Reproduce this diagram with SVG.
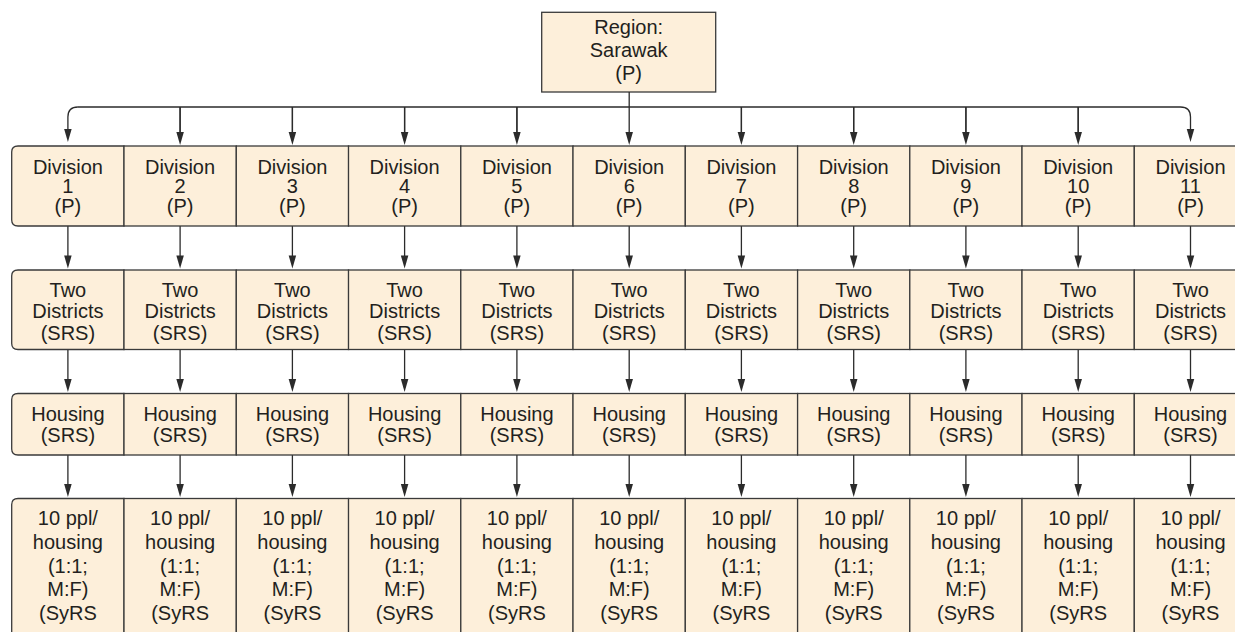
<svg xmlns="http://www.w3.org/2000/svg" width="1235" height="632" viewBox="0 0 1235 632">
<style>
.box{fill:#FDEFDA;stroke:#3a3a3a;stroke-width:1.3}
.t{font-family:"Liberation Sans",Arial,sans-serif;font-size:20px;fill:#231f20;text-anchor:middle}
.c{fill:none;stroke:#2b2b2b;stroke-width:1.3}
</style>
<defs>
<marker id="ah" markerUnits="userSpaceOnUse" markerWidth="14" markerHeight="8" refX="9" refY="3.75" orient="auto" overflow="visible">
<path d="M0,0 L13,3.75 L0,7.5 Z" fill="#2b2b2b"/>
</marker>
</defs>
<rect width="1235" height="632" fill="#fff"/>
<g id="region">
<rect class="box" x="541.7" y="12.3" width="174" height="79.7"/>
<text class="t" x="628.7" y="34">Region:</text>
<text class="t" x="628.7" y="57">Sarawak</text>
<text class="t" x="628.7" y="80">(P)</text>
</g>
<g id="connectors">
<path class="c" d="M629.2,92 V141" marker-end="url(#ah)"/>
<path class="c" d="M77.9,107 H1180.5 Q1190.5,107 1190.5,117 V138" marker-end="url(#ah)"/>
<path class="c" d="M77.9,107 Q67.9,107 67.9,117 V138" marker-end="url(#ah)"/>
<path class="c" d="M180.1,107 V141M292.4,107 V141M404.6,107 V141M516.9,107 V141M741.4,107 V141M853.7,107 V141M965.9,107 V141M1078.2,107 V141"/>
<g marker-end="url(#ah)">
<path class="c" d="M180.1,107 V141"/><path class="c" d="M292.4,107 V141"/><path class="c" d="M404.6,107 V141"/><path class="c" d="M516.9,107 V141"/><path class="c" d="M741.4,107 V141"/><path class="c" d="M853.7,107 V141"/><path class="c" d="M965.9,107 V141"/><path class="c" d="M1078.2,107 V141"/>
</g>
<g id="arrows-r1-r2">
<path class="c" d="M67.9,226 V264.5" marker-end="url(#ah)"/><path class="c" d="M180.1,226 V264.5" marker-end="url(#ah)"/><path class="c" d="M292.4,226 V264.5" marker-end="url(#ah)"/><path class="c" d="M404.6,226 V264.5" marker-end="url(#ah)"/><path class="c" d="M516.9,226 V264.5" marker-end="url(#ah)"/><path class="c" d="M629.2,226 V264.5" marker-end="url(#ah)"/><path class="c" d="M741.4,226 V264.5" marker-end="url(#ah)"/><path class="c" d="M853.7,226 V264.5" marker-end="url(#ah)"/><path class="c" d="M965.9,226 V264.5" marker-end="url(#ah)"/><path class="c" d="M1078.2,226 V264.5" marker-end="url(#ah)"/><path class="c" d="M1190.5,226 V264.5" marker-end="url(#ah)"/>
</g>
<g id="arrows-r2-r3">
<path class="c" d="M67.9,349.5 V388" marker-end="url(#ah)"/><path class="c" d="M180.1,349.5 V388" marker-end="url(#ah)"/><path class="c" d="M292.4,349.5 V388" marker-end="url(#ah)"/><path class="c" d="M404.6,349.5 V388" marker-end="url(#ah)"/><path class="c" d="M516.9,349.5 V388" marker-end="url(#ah)"/><path class="c" d="M629.2,349.5 V388" marker-end="url(#ah)"/><path class="c" d="M741.4,349.5 V388" marker-end="url(#ah)"/><path class="c" d="M853.7,349.5 V388" marker-end="url(#ah)"/><path class="c" d="M965.9,349.5 V388" marker-end="url(#ah)"/><path class="c" d="M1078.2,349.5 V388" marker-end="url(#ah)"/><path class="c" d="M1190.5,349.5 V388" marker-end="url(#ah)"/>
</g>
<g id="arrows-r3-r4">
<path class="c" d="M67.9,455 V493" marker-end="url(#ah)"/><path class="c" d="M180.1,455 V493" marker-end="url(#ah)"/><path class="c" d="M292.4,455 V493" marker-end="url(#ah)"/><path class="c" d="M404.6,455 V493" marker-end="url(#ah)"/><path class="c" d="M516.9,455 V493" marker-end="url(#ah)"/><path class="c" d="M629.2,455 V493" marker-end="url(#ah)"/><path class="c" d="M741.4,455 V493" marker-end="url(#ah)"/><path class="c" d="M853.7,455 V493" marker-end="url(#ah)"/><path class="c" d="M965.9,455 V493" marker-end="url(#ah)"/><path class="c" d="M1078.2,455 V493" marker-end="url(#ah)"/><path class="c" d="M1190.5,455 V493" marker-end="url(#ah)"/>
</g>
</g>
<!-- Row 1: Divisions -->
<g id="div1"><path class="box" d="M124,146 V226 H18 Q11.7,226 11.7,220 V152 Q11.7,146 18,146 Z"/><text class="t" x="67.9" y="173.5">Division</text><text class="t" x="67.9" y="193.3">1</text><text class="t" x="67.9" y="212.7">(P)</text></g>
<g id="div2"><rect class="box" x="124" y="146" width="112.3" height="80"/><text class="t" x="180.1" y="173.5">Division</text><text class="t" x="180.1" y="193.3">2</text><text class="t" x="180.1" y="212.7">(P)</text></g>
<g id="div3"><rect class="box" x="236.3" y="146" width="112.3" height="80"/><text class="t" x="292.4" y="173.5">Division</text><text class="t" x="292.4" y="193.3">3</text><text class="t" x="292.4" y="212.7">(P)</text></g>
<g id="div4"><rect class="box" x="348.5" y="146" width="112.3" height="80"/><text class="t" x="404.6" y="173.5">Division</text><text class="t" x="404.6" y="193.3">4</text><text class="t" x="404.6" y="212.7">(P)</text></g>
<g id="div5"><rect class="box" x="460.8" y="146" width="112.3" height="80"/><text class="t" x="516.9" y="173.5">Division</text><text class="t" x="516.9" y="193.3">5</text><text class="t" x="516.9" y="212.7">(P)</text></g>
<g id="div6"><rect class="box" x="573" y="146" width="112.3" height="80"/><text class="t" x="629.2" y="173.5">Division</text><text class="t" x="629.2" y="193.3">6</text><text class="t" x="629.2" y="212.7">(P)</text></g>
<g id="div7"><rect class="box" x="685.3" y="146" width="112.3" height="80"/><text class="t" x="741.4" y="173.5">Division</text><text class="t" x="741.4" y="193.3">7</text><text class="t" x="741.4" y="212.7">(P)</text></g>
<g id="div8"><rect class="box" x="797.6" y="146" width="112.3" height="80"/><text class="t" x="853.7" y="173.5">Division</text><text class="t" x="853.7" y="193.3">8</text><text class="t" x="853.7" y="212.7">(P)</text></g>
<g id="div9"><rect class="box" x="909.8" y="146" width="112.3" height="80"/><text class="t" x="965.9" y="173.5">Division</text><text class="t" x="965.9" y="193.3">9</text><text class="t" x="965.9" y="212.7">(P)</text></g>
<g id="div10"><rect class="box" x="1022" y="146" width="112.3" height="80"/><text class="t" x="1078.2" y="173.5">Division</text><text class="t" x="1078.2" y="193.3">10</text><text class="t" x="1078.2" y="212.7">(P)</text></g>
<g id="div11"><rect class="box" x="1134.3" y="146" width="112.3" height="80"/><text class="t" x="1190.5" y="173.5">Division</text><text class="t" x="1190.5" y="193.3">11</text><text class="t" x="1190.5" y="212.7">(P)</text></g>
<!-- Row 2: Two Districts -->
<g id="dist1"><path class="box" d="M124,270 V349.5 H18 Q11.7,349.5 11.7,343.5 V276 Q11.7,270 18,270 Z"/><text class="t" x="67.9" y="296.7">Two</text><text class="t" x="67.9" y="318.3">Districts</text><text class="t" x="67.9" y="340">(SRS)</text></g>
<g id="dist2"><rect class="box" x="124" y="270" width="112.3" height="79.5"/><text class="t" x="180.1" y="296.7">Two</text><text class="t" x="180.1" y="318.3">Districts</text><text class="t" x="180.1" y="340">(SRS)</text></g>
<g id="dist3"><rect class="box" x="236.3" y="270" width="112.3" height="79.5"/><text class="t" x="292.4" y="296.7">Two</text><text class="t" x="292.4" y="318.3">Districts</text><text class="t" x="292.4" y="340">(SRS)</text></g>
<g id="dist4"><rect class="box" x="348.5" y="270" width="112.3" height="79.5"/><text class="t" x="404.6" y="296.7">Two</text><text class="t" x="404.6" y="318.3">Districts</text><text class="t" x="404.6" y="340">(SRS)</text></g>
<g id="dist5"><rect class="box" x="460.8" y="270" width="112.3" height="79.5"/><text class="t" x="516.9" y="296.7">Two</text><text class="t" x="516.9" y="318.3">Districts</text><text class="t" x="516.9" y="340">(SRS)</text></g>
<g id="dist6"><rect class="box" x="573" y="270" width="112.3" height="79.5"/><text class="t" x="629.2" y="296.7">Two</text><text class="t" x="629.2" y="318.3">Districts</text><text class="t" x="629.2" y="340">(SRS)</text></g>
<g id="dist7"><rect class="box" x="685.3" y="270" width="112.3" height="79.5"/><text class="t" x="741.4" y="296.7">Two</text><text class="t" x="741.4" y="318.3">Districts</text><text class="t" x="741.4" y="340">(SRS)</text></g>
<g id="dist8"><rect class="box" x="797.6" y="270" width="112.3" height="79.5"/><text class="t" x="853.7" y="296.7">Two</text><text class="t" x="853.7" y="318.3">Districts</text><text class="t" x="853.7" y="340">(SRS)</text></g>
<g id="dist9"><rect class="box" x="909.8" y="270" width="112.3" height="79.5"/><text class="t" x="965.9" y="296.7">Two</text><text class="t" x="965.9" y="318.3">Districts</text><text class="t" x="965.9" y="340">(SRS)</text></g>
<g id="dist10"><rect class="box" x="1022" y="270" width="112.3" height="79.5"/><text class="t" x="1078.2" y="296.7">Two</text><text class="t" x="1078.2" y="318.3">Districts</text><text class="t" x="1078.2" y="340">(SRS)</text></g>
<g id="dist11"><rect class="box" x="1134.3" y="270" width="112.3" height="79.5"/><text class="t" x="1190.5" y="296.7">Two</text><text class="t" x="1190.5" y="318.3">Districts</text><text class="t" x="1190.5" y="340">(SRS)</text></g>
<!-- Row 3: Housing -->
<g id="house1"><path class="box" d="M124,393.5 V455 H18 Q11.7,455 11.7,449 V399.5 Q11.7,393.5 18,393.5 Z"/><text class="t" x="67.9" y="420.7">Housing</text><text class="t" x="67.9" y="441.7">(SRS)</text></g>
<g id="house2"><rect class="box" x="124" y="393.5" width="112.3" height="61.5"/><text class="t" x="180.1" y="420.7">Housing</text><text class="t" x="180.1" y="441.7">(SRS)</text></g>
<g id="house3"><rect class="box" x="236.3" y="393.5" width="112.3" height="61.5"/><text class="t" x="292.4" y="420.7">Housing</text><text class="t" x="292.4" y="441.7">(SRS)</text></g>
<g id="house4"><rect class="box" x="348.5" y="393.5" width="112.3" height="61.5"/><text class="t" x="404.6" y="420.7">Housing</text><text class="t" x="404.6" y="441.7">(SRS)</text></g>
<g id="house5"><rect class="box" x="460.8" y="393.5" width="112.3" height="61.5"/><text class="t" x="516.9" y="420.7">Housing</text><text class="t" x="516.9" y="441.7">(SRS)</text></g>
<g id="house6"><rect class="box" x="573" y="393.5" width="112.3" height="61.5"/><text class="t" x="629.2" y="420.7">Housing</text><text class="t" x="629.2" y="441.7">(SRS)</text></g>
<g id="house7"><rect class="box" x="685.3" y="393.5" width="112.3" height="61.5"/><text class="t" x="741.4" y="420.7">Housing</text><text class="t" x="741.4" y="441.7">(SRS)</text></g>
<g id="house8"><rect class="box" x="797.6" y="393.5" width="112.3" height="61.5"/><text class="t" x="853.7" y="420.7">Housing</text><text class="t" x="853.7" y="441.7">(SRS)</text></g>
<g id="house9"><rect class="box" x="909.8" y="393.5" width="112.3" height="61.5"/><text class="t" x="965.9" y="420.7">Housing</text><text class="t" x="965.9" y="441.7">(SRS)</text></g>
<g id="house10"><rect class="box" x="1022" y="393.5" width="112.3" height="61.5"/><text class="t" x="1078.2" y="420.7">Housing</text><text class="t" x="1078.2" y="441.7">(SRS)</text></g>
<g id="house11"><rect class="box" x="1134.3" y="393.5" width="112.3" height="61.5"/><text class="t" x="1190.5" y="420.7">Housing</text><text class="t" x="1190.5" y="441.7">(SRS)</text></g>
<!-- Row 4: People -->
<g id="ppl1"><path class="box" d="M124,498.5 V660 H11.7 V504.5 Q11.7,498.5 18,498.5 Z"/><text class="t" x="67.9" y="525">10 ppl/</text><text class="t" x="67.9" y="548.5">housing</text><text class="t" x="67.9" y="573">(1:1;</text><text class="t" x="67.9" y="595.5">M:F)</text><text class="t" x="67.9" y="620">(SyRS</text></g>
<g id="ppl2"><rect class="box" x="124" y="498.5" width="112.3" height="160"/><text class="t" x="180.1" y="525">10 ppl/</text><text class="t" x="180.1" y="548.5">housing</text><text class="t" x="180.1" y="573">(1:1;</text><text class="t" x="180.1" y="595.5">M:F)</text><text class="t" x="180.1" y="620">(SyRS</text></g>
<g id="ppl3"><rect class="box" x="236.3" y="498.5" width="112.3" height="160"/><text class="t" x="292.4" y="525">10 ppl/</text><text class="t" x="292.4" y="548.5">housing</text><text class="t" x="292.4" y="573">(1:1;</text><text class="t" x="292.4" y="595.5">M:F)</text><text class="t" x="292.4" y="620">(SyRS</text></g>
<g id="ppl4"><rect class="box" x="348.5" y="498.5" width="112.3" height="160"/><text class="t" x="404.6" y="525">10 ppl/</text><text class="t" x="404.6" y="548.5">housing</text><text class="t" x="404.6" y="573">(1:1;</text><text class="t" x="404.6" y="595.5">M:F)</text><text class="t" x="404.6" y="620">(SyRS</text></g>
<g id="ppl5"><rect class="box" x="460.8" y="498.5" width="112.3" height="160"/><text class="t" x="516.9" y="525">10 ppl/</text><text class="t" x="516.9" y="548.5">housing</text><text class="t" x="516.9" y="573">(1:1;</text><text class="t" x="516.9" y="595.5">M:F)</text><text class="t" x="516.9" y="620">(SyRS</text></g>
<g id="ppl6"><rect class="box" x="573" y="498.5" width="112.3" height="160"/><text class="t" x="629.2" y="525">10 ppl/</text><text class="t" x="629.2" y="548.5">housing</text><text class="t" x="629.2" y="573">(1:1;</text><text class="t" x="629.2" y="595.5">M:F)</text><text class="t" x="629.2" y="620">(SyRS</text></g>
<g id="ppl7"><rect class="box" x="685.3" y="498.5" width="112.3" height="160"/><text class="t" x="741.4" y="525">10 ppl/</text><text class="t" x="741.4" y="548.5">housing</text><text class="t" x="741.4" y="573">(1:1;</text><text class="t" x="741.4" y="595.5">M:F)</text><text class="t" x="741.4" y="620">(SyRS</text></g>
<g id="ppl8"><rect class="box" x="797.6" y="498.5" width="112.3" height="160"/><text class="t" x="853.7" y="525">10 ppl/</text><text class="t" x="853.7" y="548.5">housing</text><text class="t" x="853.7" y="573">(1:1;</text><text class="t" x="853.7" y="595.5">M:F)</text><text class="t" x="853.7" y="620">(SyRS</text></g>
<g id="ppl9"><rect class="box" x="909.8" y="498.5" width="112.3" height="160"/><text class="t" x="965.9" y="525">10 ppl/</text><text class="t" x="965.9" y="548.5">housing</text><text class="t" x="965.9" y="573">(1:1;</text><text class="t" x="965.9" y="595.5">M:F)</text><text class="t" x="965.9" y="620">(SyRS</text></g>
<g id="ppl10"><rect class="box" x="1022" y="498.5" width="112.3" height="160"/><text class="t" x="1078.2" y="525">10 ppl/</text><text class="t" x="1078.2" y="548.5">housing</text><text class="t" x="1078.2" y="573">(1:1;</text><text class="t" x="1078.2" y="595.5">M:F)</text><text class="t" x="1078.2" y="620">(SyRS</text></g>
<g id="ppl11"><rect class="box" x="1134.3" y="498.5" width="112.3" height="160"/><text class="t" x="1190.5" y="525">10 ppl/</text><text class="t" x="1190.5" y="548.5">housing</text><text class="t" x="1190.5" y="573">(1:1;</text><text class="t" x="1190.5" y="595.5">M:F)</text><text class="t" x="1190.5" y="620">(SyRS</text></g>
</svg>
